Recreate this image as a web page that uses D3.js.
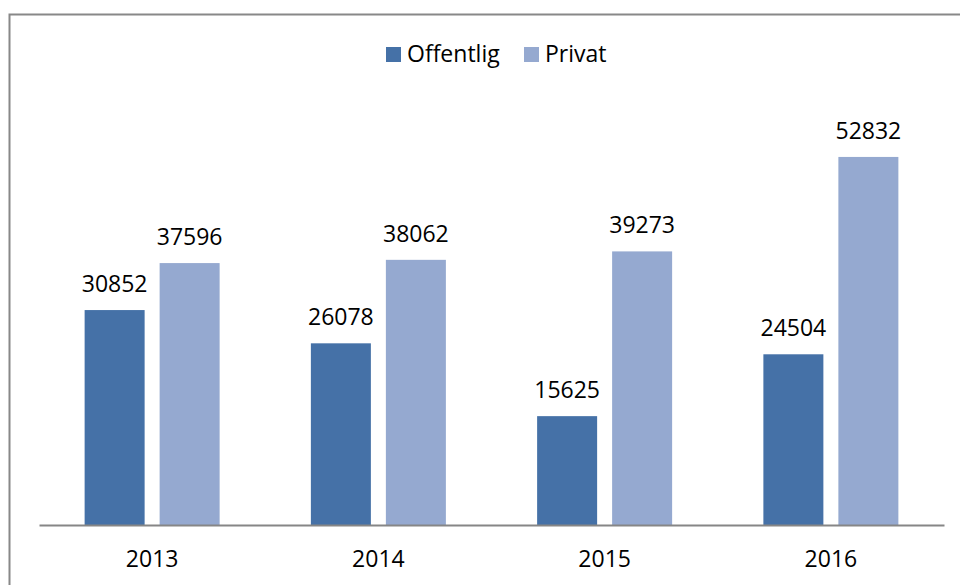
<!DOCTYPE html>
<html>
<head>
<meta charset="utf-8">
<script src="https://cdn.jsdelivr.net/npm/d3@7"></script>
<style>
  body { margin: 0; background: #fff; }
  svg { display: block; font-family: "Open Sans", "Noto Sans", sans-serif; }
</style>
</head>
<body>
<div id="chart"></div>
<script>
const years = ["2013", "2014", "2015", "2016"];
const seriesNames = ["Offentlig", "Privat"];
const offentlig = [30852, 26078, 15625, 24504];
const privat = [37596, 38062, 39273, 52832];
const colors = ["#4571a7", "#95a9d0"];

const W = 960, H = 585;
const plot = { left: 39, right: 944, top: 107, bottom: 525 };

const svg = d3.select("#chart")
  .append("svg")
  .attr("width", W)
  .attr("height", H);

// chart frame (runs off the right and bottom edges)
svg.append("rect")
  .attr("x", 9.5)
  .attr("y", 14.5)
  .attr("width", 1000)
  .attr("height", 700)
  .attr("fill", "#fff")
  .attr("stroke", "#888")
  .attr("stroke-width", 2);

const x0 = d3.scaleBand()
  .domain(years)
  .range([plot.left, plot.right]);

const x1 = d3.scaleBand()
  .domain(seriesNames)
  .range([0, 135])
  .paddingInner(0.2);

const y = d3.scaleLinear()
  .domain([0, 60000])
  .range([plot.bottom, plot.top]);

const data = years.map((yr, i) => ({
  year: yr,
  values: [
    { name: "Offentlig", value: offentlig[i] },
    { name: "Privat", value: privat[i] }
  ]
}));

const groups = svg.selectAll(".year")
  .data(data)
  .enter()
  .append("g")
  .attr("class", "year")
  .attr("transform", d => `translate(${x0(d.year) + (x0.bandwidth() - 135) / 2}, 0)`);

groups.selectAll("rect")
  .data(d => d.values)
  .enter()
  .append("rect")
  .attr("x", d => x1(d.name))
  .attr("y", d => y(d.value))
  .attr("width", x1.bandwidth())
  .attr("height", d => y(0) - y(d.value))
  .attr("fill", (d, i) => colors[i]);

// value labels
groups.selectAll("text")
  .data(d => d.values)
  .enter()
  .append("text")
  .attr("x", d => x1(d.name) + x1.bandwidth() / 2)
  .attr("y", d => y(d.value) - 18)
  .attr("text-anchor", "middle")
  .style("font-size", "23px")
  .style("fill", "#000")
  .text(d => d.value);

// x axis
const xAxis = svg.append("g")
  .attr("transform", `translate(0, ${plot.bottom})`)
  .call(d3.axisBottom(x0).tickSize(0));

xAxis.select(".domain")
  .attr("stroke", "#868686")
  .attr("stroke-width", 2);

xAxis.selectAll("text")
  .attr("y", 42)
  .attr("dy", 0)
  .style("font-size", "23px")
  .style("font-family", "\"Open Sans\", sans-serif")
  .style("fill", "#000");

// legend
const legend = svg.append("g")
  .attr("transform", "translate(386, 47)");

const legendX = [0, 138];
seriesNames.forEach((name, i) => {
  const g = legend.append("g")
    .attr("transform", `translate(${legendX[i]}, 0)`);
  g.append("rect")
    .attr("width", 15)
    .attr("height", 15)
    .attr("fill", colors[i]);
  g.append("text")
    .attr("x", 21)
    .attr("y", 15)
    .style("font-size", "23px")
    .text(name);
});
</script>
</body>
</html>
